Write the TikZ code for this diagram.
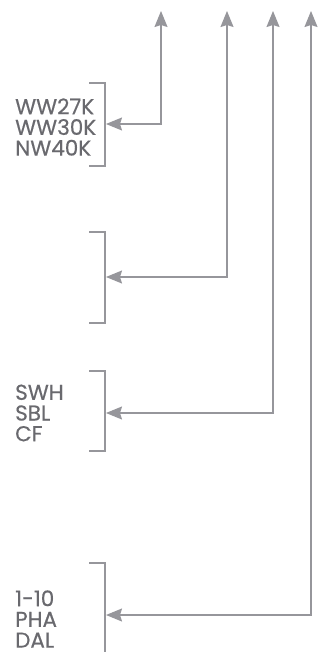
\documentclass[tikz,border=0pt]{standalone}
\usepackage{fontspec}
\setmainfont{Poppins}
\newfontfamily\lblfont{Poppins}[FakeBold=0.5]
\usetikzlibrary{arrows.meta}
\definecolor{linegray}{RGB}{150,150,155}
\definecolor{textgray}{RGB}{105,105,110}
\tikzset{lbl/.style={anchor=west,inner sep=0pt,align=left,text=textgray,
    font=\lblfont\fontsize{21.5}{20.7}\selectfont},
  bracket/.style={draw=linegray,line width=1.2pt},
  link/.style={draw=linegray,line width=1.2pt,
    {Stealth[length=16pt,width=13pt,inset=2pt]}-{Stealth[length=16pt,width=13pt,inset=2pt]}}}

\begin{document}
\begin{tikzpicture}[x=1pt,y=-1pt]
\useasboundingbox (0,0) rectangle (325,652);

% the labels
\node[lbl] (g1) at (15,127) {WW27K\\WW30K\\NW40K};
\node[lbl] (g3) at (15,413) {SWH\\SBL\\CF};
\node[lbl] (g4) at (15,619) {1-10\\PHA\\DAL};

% brackets, with a coordinate at each midpoint
\draw[bracket] (89,83) -| (105,166) -- (89,166);
\coordinate (b1) at (106,124);
\draw[bracket] (89,232) -| (105,323) -- (89,323);
\coordinate (b2) at (106,277);
\draw[bracket] (89,371) -| (105,451) -- (89,451);
\coordinate (b3) at (106,413);
\draw[bracket] (89,563) -| (105,660);
\coordinate (b4) at (106,615);

% tops of the arrows
\coordinate (t1) at (161,11);
\coordinate (t2) at (227,11);
\coordinate (t3) at (273,11);
\coordinate (t4) at (311,11);

\foreach \y in {1,...,4}
  \path[link] (b\y) -| (t\y);

\end{tikzpicture}
\end{document}
